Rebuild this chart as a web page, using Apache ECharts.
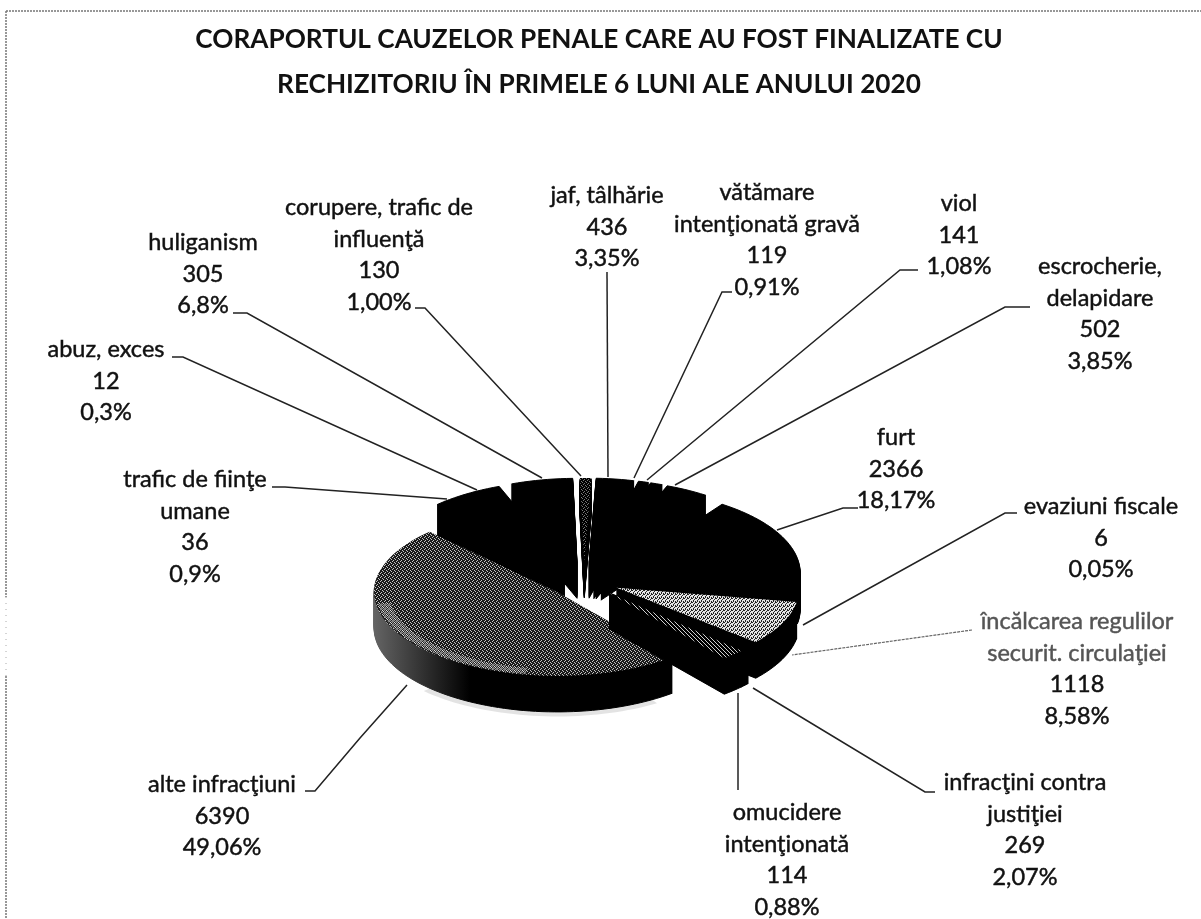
<!DOCTYPE html>
<html><head><meta charset="utf-8">
<style>html,body{margin:0;padding:0;background:#fff}#c{width:1201px;height:919px}</style>
<script src="https://cdn.jsdelivr.net/npm/echarts@6/dist/echarts.min.js"></script>
</head><body><div id="c"></div>
<script>
// ---- data (clockwise, starting with the big slice) ----
const categories = ['alte infracţiuni','trafic de fiinţe\numane','abuz, exces','huliganism','corupere, trafic de\ninfluenţă','jaf, tâlhărie','vătămare\nintenţionată gravă','viol','escrocherie,\ndelapidare','furt','evaziuni fiscale','încălcarea regulilor\nsecurit. circulaţiei','omucidere\nintenţionată','infracţini contra\njustiţiei'];
const values = [6390,36,12,305,130,436,119,141,502,2366,6,1118,114,269];
const percentLabels = ['49,06%','0,9%','0,3%','6,8%','1,00%','3,35%','0,91%','1,08%','3,85%','18,17%','0,05%','8,58%','0,88%','2,07%'];
// wedge sizes as drawn in the picture (%): the printed labels of three slices do not add up to 100
const wedgeShares = [49.06,0.9,5.6,5.5,1.00,3.35,0.91,1.08,3.85,18.17,0.05,8.58,0.88,2.07];

// ---- layout ----
const startAngle = 51, RX = 183, RY = 84, CX = 584, CY = 580, EX = 36, EY = 18, DEPTH = 36;
const fills = ['dither','#000','#000','#000','dark','#000','#000','#000','#000','#000','#000','light','#000','stripes'];
const explodeGroup = [0,1,1,2,3,4,5,6,7,8,8,9,10,10];
const labelAt = [[222,769],[195,464],[106,334],[203,227],[379,192],[607,180],[767,177],[959,188],[1100,251],[896,422],[1101,491],[1077,606],[787,797],[1025,767]];
const leaders = [
 [[305,791],[315,791],[360,738],[407,685]],[[272,487],[285,487],[447,499]],[[172,357],[183,357],[477,490]],
 [[233,313],[247,313],[542,478]],[[415,308],[425,308],[581,476]],[[607,272],[608,477]],
 [[732,292],[722,292],[634,478]],[[918,270],[900,270],[647,480]],[[1030,307],[1005,307],[675,485]],
 [[858,508],[843,508],[777,530]],[[1017,513],[1005,513],[803,625]],[[972,630],[792,655]],
 [[738,790],[738,693]],[[935,792],[925,792],[753,688]]];
const FONT = 'Lato, "Open Sans", sans-serif';
const LH = 31.5;

function dither(rows, on, off){
  const n = rows.length, c = document.createElement('canvas'); c.width = c.height = n;
  const g = c.getContext('2d');
  rows.forEach((r,y)=>[...r].forEach((ch,x)=>{ g.fillStyle = ch==='1'?on:off; g.fillRect(x,y,1,1); }));
  return {image:c, repeat:'repeat'};
}
const patterns = {
  dither: dither(['1011','0111','1101','1110'],'#1a1a1a','#c4c4c4'),
  light: dither(['0100','0101','1001','0010'],'#222','#e4e4e4'),
  dark: dither(['1110','1011','1101','0111'],'#000','#777'),
  stripes: dither(['1011','1101','1110','0111'],'#000','#cfcfcf'),
  glare: dither(['0101','1010','0101','1010'],'#333','#f4f4f4')
};
const total = wedgeShares.reduce((a,b)=>a+b,0);
const starts = []; wedgeShares.reduce((acc,v,i)=>{ starts[i]=acc; return acc+v/total*360; }, startAngle);
const rad = d => d*Math.PI/180;
const sweepOf = i => wedgeShares[i]/total*360;

function band(ax, ay, a0, a1, r0, r1, dy){
  const pts = [], n = Math.ceil(Math.abs(a1-a0)/2);
  for(let k=0;k<=n;k++){ const t=rad(a0+(a1-a0)*k/n); pts.push([ax+RX*r1*Math.cos(t), ay+dy+RY*r1*Math.sin(t)]); }
  for(let k=n;k>=0;k--){ const t=rad(a0+(a1-a0)*k/n); pts.push([ax+RX*r0*Math.cos(t), ay+dy+RY*r0*Math.sin(t)]); }
  return pts;
}

function renderItem(params, api){
  const i = params.dataIndex, a0 = starts[i], sweep = api.value(0)/total*360;
  // thin neighbours share one explosion direction, as in the reference
  const g = explodeGroup[i];
  const members = explodeGroup.map((e,k)=>e===g?k:-1).filter(k=>k>=0);
  const gStart = starts[members[0]], gSweep = members.reduce((s,k)=>s+sweepOf(k),0);
  const mid = gStart+gSweep/2;
  const ax = CX+EX*Math.cos(rad(mid)), ay = CY+EY*Math.sin(rad(mid));
  const pts = [[ax,ay]], n = Math.max(2,Math.ceil(sweep/2));
  for(let k=0;k<=n;k++){ const t=rad(a0+sweep*k/n); pts.push([ax+RX*Math.cos(t), ay+RY*Math.sin(t)]); }
  const z = Math.round(1000+100*Math.sin(rad(mid)));
  const side = i===0 ? {type:'linear',global:true,x:372,y:0,x2:470,y2:0,colorStops:[{offset:0,color:'#666'},{offset:1,color:'#000'}]} : '#000';
  const children = [];
  if(i===0){
    children.push({type:'polygon',z2:z,shape:{points:band(ax,ay,58,135,0.985,1.03,DEPTH+2)},style:{fill:'#ccc',opacity:0.55}});
  }
  for(let d=DEPTH;d>0;d--){
    children.push({type:'polygon',z2:z,shape:{points:pts.map(p=>[p[0],p[1]+d])},style:{fill:side,stroke:side,lineWidth:1}});
  }
  const f = fills[i];
  children.push({type:'polygon',z2:z,shape:{points:pts},style:{fill:patterns[f]||f,stroke:f==='#000'?'#000':null,lineWidth:1}});
  if(i===0){
    children.push({type:'polygon',z2:z,shape:{points:band(ax,ay,100,172,0.92,0.99,0)},style:{fill:patterns.glare,opacity:0.55}});
  }
  const [lx,ly] = labelAt[i];
  const gray = i===11;
  const nameLines = categories[i].split('\n').length;
  const textStyle = (text,fill)=>({text,x:0,y:0,align:'center',verticalAlign:'top',font:'23.5px '+FONT,lineHeight:LH,fill,stroke:fill,lineWidth:0.45});
  children.push({type:'text',z2:3000,x:lx,y:ly,style:textStyle(categories[i],gray?'#555':'#111')});
  children.push({type:'text',z2:3000,x:lx,y:ly+nameLines*LH,style:textStyle(values[i]+'\n'+percentLabels[i],'#111')});
  children.push({type:'polyline',z2:2900,shape:{points:leaders[i]},style:{fill:null,stroke:gray?'#666':'#222',lineWidth:gray?1.2:1.5,lineDash:gray?[3,1]:null}});
  return {type:'group',children};
}

const chart = echarts.init(document.getElementById('c'),null,{renderer:'canvas'});
chart.setOption({
  animation:false, backgroundColor:'#fff',
  title:{text:'CORAPORTUL CAUZELOR PENALE CARE AU FOST FINALIZATE CU\nRECHIZITORIU ÎN PRIMELE 6 LUNI ALE ANULUI 2020',
    left:594, top:12, textAlign:'center',
    textStyle:{fontFamily:FONT,fontWeight:'bold',fontSize:26.2,lineHeight:45,color:'#111'}},
  graphic:[
    {type:'line',shape:{x1:6,y1:11,x2:1201,y2:11},style:{stroke:'#777',lineWidth:1.5,lineDash:[2,1]}},
    {type:'line',shape:{x1:6,y1:11,x2:6,y2:597},style:{stroke:'#777',lineWidth:1.5,lineDash:[2,1]}},
    {type:'line',shape:{x1:6,y1:597,x2:6,y2:676},style:{stroke:'#aaa',lineWidth:1,lineDash:[1,5]}},
    {type:'line',shape:{x1:6,y1:676,x2:6,y2:919},style:{stroke:'#777',lineWidth:1.5,lineDash:[2,1]}}
  ],
  series:[{type:'custom',coordinateSystem:'none',renderItem,silent:true,clip:false,
    data:wedgeShares.map((v,i)=>({name:categories[i],value:[v]}))}]
});
</script></body></html>
